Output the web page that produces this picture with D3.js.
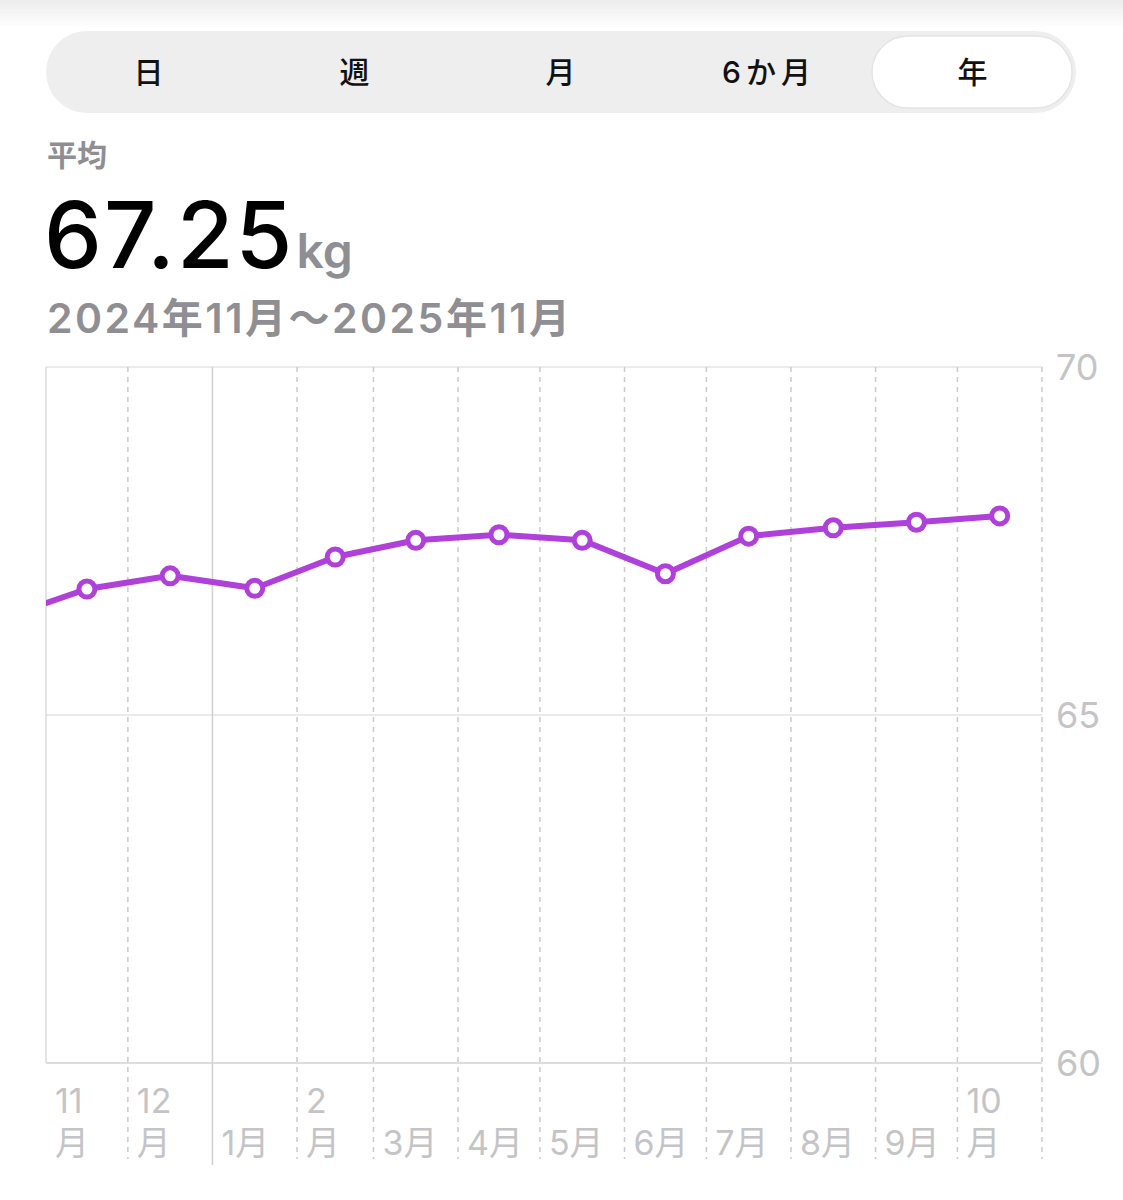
<!DOCTYPE html>
<html>
<head>
<meta charset="utf-8">
<script src="https://cdn.jsdelivr.net/npm/d3@7"></script>
<style>
  body { margin: 0; background: #fff; }
  svg text { font-family: Inter, "Noto Sans CJK JP", sans-serif; }
</style>
</head>
<body>
<div id="chart"></div>
<script>
// monthly average weight (kg); first month sits just left of the visible range
var months = ["2024-10", "2024-11", "2024-12", "2025-01", "2025-02", "2025-03", "2025-04",
              "2025-05", "2025-06", "2025-07", "2025-08", "2025-09", "2025-10"];
var weights = [66.40, 66.81, 67.00, 66.82, 67.27, 67.51, 67.59, 67.51, 67.03, 67.57, 67.69, 67.77, 67.86];

var yTicks = [60, 65, 70];
var tickLabels = ["11\n月", "12\n月", "1月", "2\n月", "3月", "4月", "5月", "6月", "7月", "8月", "9月", "10\n月"];
var segments = ["日", "週", "月", "6か月", "年"];
var selectedSegment = "年";
var averageLabel = "平均";
var averageValue = "67.25";
var unitLabel = "kg";
var rangeLabel = "2024年11月～2025年11月";

var W = 1123, H = 1200,
    margin = {top: 367, right: 81, bottom: 137, left: 46},
    width = W - margin.left - margin.right,
    height = H - margin.top - margin.bottom;

var purple = "#b040da",
    labelGray = "#c4c4c7";

var parseMonth = d3.timeParse("%Y-%m");

var svg = d3.select("#chart").append("svg")
    .attr("width", W)
    .attr("height", H);

// faint shadow at the very top
var defs = svg.append("defs");
var grad = defs.append("linearGradient").attr("id", "topfade")
    .attr("x1", 0).attr("y1", 0).attr("x2", 0).attr("y2", 1);
grad.append("stop").attr("offset", "0%").attr("stop-color", "#ececec");
grad.append("stop").attr("offset", "100%").attr("stop-color", "#ffffff");
svg.append("rect").attr("width", W).attr("height", 28).attr("fill", "url(#topfade)");

// segmented control
var seg = svg.append("g");
var segX = d3.scaleBand().domain(segments).range([46, 1076]);
seg.append("rect")
    .attr("x", 46).attr("y", 31)
    .attr("width", 1030).attr("height", 82)
    .attr("rx", 41)
    .attr("fill", "#eeeeef");
seg.append("rect")
    .attr("x", segX(selectedSegment) + 2).attr("y", 36)
    .attr("width", segX.bandwidth() - 6).attr("height", 72)
    .attr("rx", 36)
    .attr("fill", "#fff")
    .attr("stroke", "#e4e4e6")
    .attr("stroke-width", 1.5);
seg.selectAll("text.seg")
    .data(segments)
  .enter().append("text")
    .attr("class", "seg")
    .attr("x", function(d) { return segX(d) + segX.bandwidth() / 2 + 2; })
    .attr("y", 83)
    .attr("text-anchor", "middle")
    .attr("font-size", 30)
    .attr("font-weight", 500)
    .attr("letter-spacing", 5)
    .attr("fill", "#111")
    .text(function(d) { return d; });

// header
svg.append("text")
    .attr("x", 47).attr("y", 166)
    .attr("font-size", 30)
    .attr("font-weight", 600)
    .attr("fill", "#8e8e93")
    .text(averageLabel);

var big = svg.append("text")
    .attr("x", 44).attr("y", 268);
big.append("tspan")
    .attr("font-size", 92)
    .attr("font-weight", 500)
    .attr("letter-spacing", 2)
    .attr("fill", "#000")
    .text(averageValue);
big.append("tspan")
    .attr("dx", 2)
    .attr("font-size", 48)
    .attr("font-weight", 600)
    .attr("fill", "#8e8e93")
    .text(unitLabel);

svg.append("text")
    .attr("x", 47).attr("y", 333)
    .attr("font-size", 41)
    .attr("font-weight", 600)
    .attr("letter-spacing", 2.5)
    .attr("fill", "#8e8e93")
    .text(rangeLabel);

// chart
var g = svg.append("g")
    .attr("transform", "translate(" + margin.left + "," + margin.top + ")");

var x = d3.scaleTime()
    .domain([parseMonth("2024-11"), parseMonth("2025-11")])
    .range([0, width]);

var y = d3.scaleLinear()
    .domain([60, 70])
    .range([height, 0]);

function midMonth(m) {
  var s = parseMonth(m), e = d3.timeMonth.offset(s, 1);
  return new Date((s.getTime() + e.getTime()) / 2);
}

var data = months.map(function(m, i) { return {date: midMonth(m), value: weights[i]}; });

// horizontal grid
g.selectAll("line.hgrid")
    .data(yTicks)
  .enter().append("line")
    .attr("class", "hgrid")
    .attr("x1", 0).attr("x2", width)
    .attr("y1", function(d) { return y(d); })
    .attr("y2", function(d) { return y(d); })
    .attr("stroke", function(d) { return d === 60 ? "#d2d2d6" : "#e3e3e5"; })
    .attr("stroke-width", 1.5);

// left border
g.append("line")
    .attr("x1", 0).attr("x2", 0)
    .attr("y1", 0).attr("y2", height)
    .attr("stroke", "#dcdcdf")
    .attr("stroke-width", 1.5);

// month grid lines (January solid as year boundary)
var monthStarts = d3.timeMonth.range(d3.timeMonth.offset(x.domain()[0], 1), d3.timeMonth.offset(x.domain()[1], 1));
g.selectAll("line.vgrid")
    .data(monthStarts)
  .enter().append("line")
    .attr("class", "vgrid")
    .attr("x1", function(d) { return x(d); })
    .attr("x2", function(d) { return x(d); })
    .attr("y1", 0)
    .attr("y2", function(d) { return d.getMonth() === 0 ? height + 102 : height + 96; })
    .attr("stroke", function(d) { return d.getMonth() === 0 ? "#d0d0d3" : "#cbcbce"; })
    .attr("stroke-width", 1.5)
    .attr("stroke-dasharray", function(d) { return d.getMonth() === 0 ? null : "5,5"; });

// y axis labels on the right
g.selectAll("text.ylab")
    .data(yTicks)
  .enter().append("text")
    .attr("class", "ylab")
    .attr("x", width + 14)
    .attr("y", function(d) { return y(d) + 13; })
    .attr("font-size", 36)
    .attr("fill", labelGray)
    .text(function(d) { return d; });

// x labels
var tickStarts = d3.timeMonth.range(x.domain()[0], x.domain()[1]);
var xl = g.selectAll("g.xlab")
    .data(tickStarts)
  .enter().append("g")
    .attr("class", "xlab")
    .attr("transform", function(d) { return "translate(" + (x(d) + 9) + "," + height + ")"; });
xl.each(function(d, i) {
  var parts = tickLabels[i].split("\n");
  var sel = d3.select(this);
  if (parts.length === 2) {
    sel.append("text").attr("y", 50).attr("font-size", 34).attr("fill", labelGray).text(parts[0]);
  }
  sel.append("text").attr("y", 92).attr("font-size", 34).attr("fill", labelGray).text(parts[parts.length - 1]);
});

// line + points, clipped to the plot area
defs.append("clipPath").attr("id", "plotclip")
  .append("rect").attr("width", width).attr("height", height);

var plot = g.append("g").attr("clip-path", "url(#plotclip)");

var line = d3.line()
    .x(function(d) { return x(d.date); })
    .y(function(d) { return y(d.value); });

plot.append("path")
    .datum(data)
    .attr("fill", "none")
    .attr("stroke", purple)
    .attr("stroke-width", 6)
    .attr("stroke-linejoin", "round")
    .attr("stroke-linecap", "round")
    .attr("d", line);

plot.selectAll("circle")
    .data(data)
  .enter().append("circle")
    .attr("cx", function(d) { return x(d.date); })
    .attr("cy", function(d) { return y(d.value); })
    .attr("r", 8)
    .attr("fill", "#fff")
    .attr("stroke", purple)
    .attr("stroke-width", 5);
</script>
</body>
</html>
